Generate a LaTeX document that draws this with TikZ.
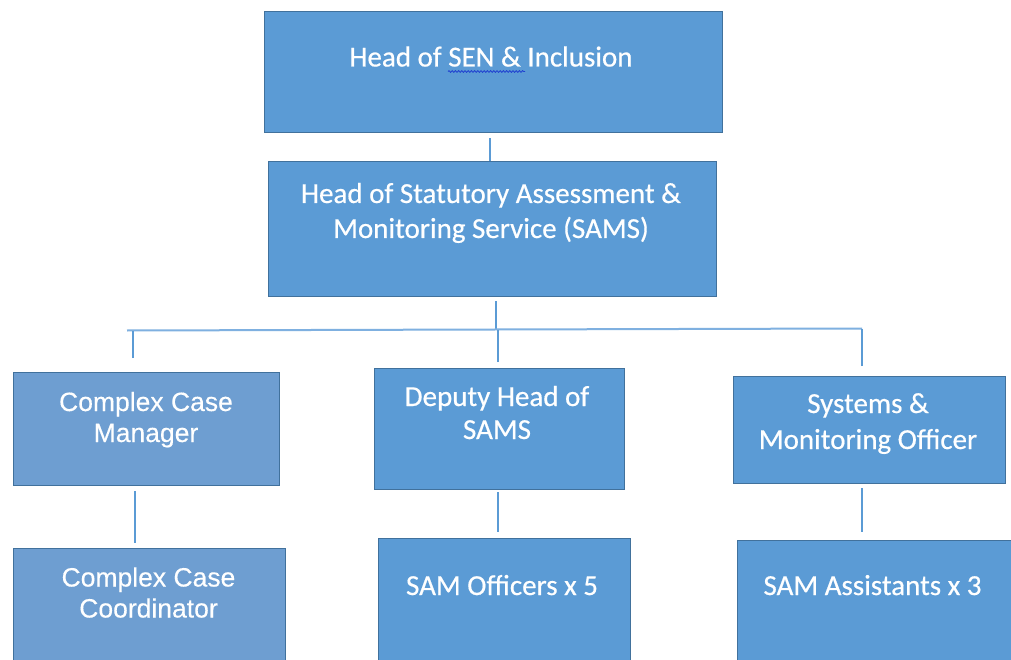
\documentclass[tikz,border=0pt]{standalone}
\usepackage{fontspec}
\newfontfamily\calibrifont[FakeBold=0.5]{Carlito}
\newfontfamily\arialfont[FakeBold=0.3]{Liberation Sans}
\usetikzlibrary{decorations.pathmorphing}
\definecolor{boxblue}{HTML}{5B9BD5}
\definecolor{boxblueB}{HTML}{6E9ED1}
\definecolor{boxedge}{HTML}{41719C}
\definecolor{linkblue}{HTML}{5B9BD5}
\definecolor{buslight}{HTML}{7FB0E0}
\definecolor{spell}{HTML}{2040D0}
\tikzset{
  orgbox/.style={draw=boxedge, line width=1.3pt, fill=boxblue, inner sep=0pt, anchor=north west},
  orgboxB/.style={orgbox, fill=boxblueB},
  cal/.style={text=white, inner sep=0pt, anchor=base, font=\calibrifont\fontsize{29}{35}\selectfont},
  ari/.style={text=white, inner sep=0pt, anchor=base, font=\arialfont\fontsize{26.5}{31}\selectfont},
  conn/.style={draw=linkblue, line width=1.7pt},
  bus/.style={draw=buslight, line width=2pt}
}
\begin{document}
\begin{tikzpicture}[x=1pt,y=-1pt]
\clip (0,0) rectangle (1011,660);
\fill[white] (0,0) rectangle (1011,660);
% boxes
\node[orgbox, minimum width=458pt, minimum height=121pt] (A) at (264,11) {};
\node[orgbox, minimum width=448pt, minimum height=135pt] (B) at (268,161) {};
\node[orgboxB, minimum width=266pt, minimum height=113pt] (C) at (13,372) {};
\node[orgbox, minimum width=250pt, minimum height=121pt] (D) at (374,368) {};
\node[orgbox, minimum width=272pt, minimum height=107pt] (E) at (733,376) {};
\node[orgboxB, minimum width=272pt, minimum height=140pt] (F) at (13,548) {};
\node[orgbox, minimum width=252pt, minimum height=150pt] (G) at (378,538) {};
\node[orgbox, minimum width=280pt, minimum height=150pt] (H) at (737,540) {};
% texts
\node[cal] (tA) at (491,66.5) {\parbox[t]{440pt}{\centering Head of SEN \& Inclusion}};
\draw[spell, line width=0.8pt, decorate, decoration={snake, amplitude=0.9pt, segment length=3.2pt}] (448,71.5) -- (525,71.5);
\node[cal] (tB) at (491,203) {\parbox[t]{440pt}{\centering Head of Statutory Assessment \&\\Monitoring Service (SAMS)}};
\node[ari] (tC) at (146,411) {\parbox[t]{260pt}{\centering Complex Case\\Manager}};
\node[cal, font=\calibrifont\fontsize{29}{33}\selectfont] (tD) at (497,406) {\parbox[t]{245pt}{\centering Deputy Head of\\SAMS}};
\node[cal, font=\calibrifont\fontsize{29}{36}\selectfont] (tE) at (868,413) {\parbox[t]{265pt}{\centering Systems \&\\Monitoring Officer}};
\node[ari] (tF) at (148.5,586.5) {\parbox[t]{265pt}{\centering Complex Case\\Coordinator}};
\node[cal] (tG) at (502,595) {\parbox[t]{245pt}{\centering SAM Officers x 5}};
\node[cal] (tH) at (872.5,595) {\parbox[t]{270pt}{\centering SAM Assistants x 3}};
% connectors
\draw[conn] ([xshift=-4pt,yshift=-5pt]A.south) -- ([xshift=-3pt]B.north);
\coordinate (busL) at (127,330.5);
\coordinate (busR) at (862,328.5);
\draw[conn] ([xshift=3pt,yshift=-4pt]B.south) coordinate (bS) -- (bS |- 0,329.5);
\draw[bus] (busL) -- (busR);
\draw[conn] ([xshift=-14pt,yshift=14pt]C.north) coordinate (cN) -- (cN |- busL);
\draw[conn] ([xshift=-2pt,yshift=6pt]D.north) coordinate (dN) -- (dN |- 0,329.5);
\draw[conn] ([xshift=-8pt,yshift=10pt]E.north) coordinate (eN) -- (eN |- busR);
\draw[conn] ([xshift=-12pt,yshift=-5pt]C.south) -- ([xshift=-15pt,yshift=5pt]F.north);
\draw[conn] ([xshift=-2pt,yshift=-2pt]D.south) -- ([xshift=-7pt,yshift=6pt]G.north);
\draw[conn] ([xshift=-8pt,yshift=-4pt]E.south) -- ([xshift=-16pt,yshift=8pt]H.north);
\end{tikzpicture}
\end{document}
